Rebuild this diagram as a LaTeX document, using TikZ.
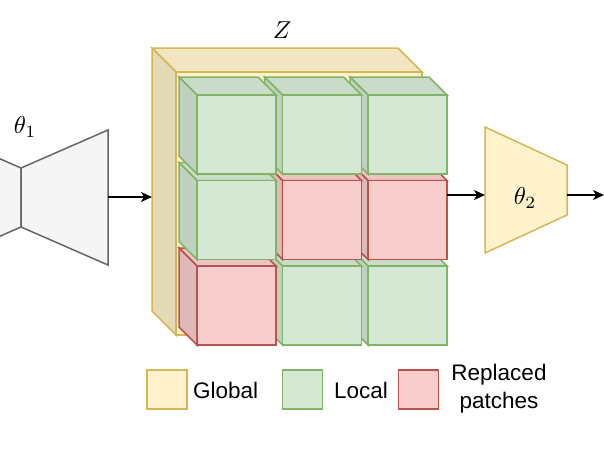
\documentclass[tikz,border=0pt]{standalone}
\usepackage{fontspec}
\setmainfont{Liberation Sans}
\usetikzlibrary{arrows.meta}
\definecolor{yF}{HTML}{FFF2CC}\definecolor{yS}{HTML}{D6B656}
\definecolor{gF}{HTML}{D5E8D4}\definecolor{gS}{HTML}{82B366}
\definecolor{rF}{HTML}{F8CECC}\definecolor{rS}{HTML}{B85450}
\definecolor{kF}{HTML}{F5F5F5}\definecolor{kS}{HTML}{666666}
\newcommand\cubecell[3]{%
  \filldraw[shp,fill=#3F!95!black,draw=#3S] (#1,#2) -- ++(79,0) -- ++(18,18) -- ++(-79,0) -- cycle;
  \filldraw[shp,fill=#3F!90!black,draw=#3S] (#1,#2) -- ++(18,18) -- ++(0,79) -- ++(-18,-18) -- cycle;
  \filldraw[shp,fill=#3F,draw=#3S] (#1+18,#2+18) rectangle ++(79,79);
}
\tikzset{
  shp/.style={line width=1.5pt},
  arr/.style={line width=1.6pt,-{Stealth[length=11pt,width=10pt,inset=3pt]}},
  lbl/.style={inner sep=0pt},
  legbox/.style={line width=1.5pt,minimum width=40pt,minimum height=39pt,inner sep=0pt},
  legtxt/.style={font=\fontsize{22.5}{28}\selectfont,inner sep=0pt,align=center},
}
\newcommand\mylbl[1]{\scalebox{2.45}{$#1$}}
\begin{document}
\begin{tikzpicture}[x=1pt,y=-1pt]
\useasboundingbox (0,0) rectangle (604,455);
\clip (0,0) rectangle (604,455);
% encoder
\filldraw[shp,fill=kF,draw=kS] (21,168) -- (-66,130) -- (-66,265) -- (21,227) -- cycle;
\filldraw[shp,fill=kF,draw=kS] (21,168) -- (108,130) -- (108,265) -- (21,227) -- cycle;
\node[lbl] (t1) at (25,127) {\mylbl{\theta_1}};
% global cube
\filldraw[shp,fill=yF!95!black,draw=yS] (152,48) -- (398,48) -- (422,72) -- (176,72) -- cycle;
\filldraw[shp,fill=yF!90!black,draw=yS] (152,48) -- (176,72) -- (176,335) -- (152,311) -- cycle;
\filldraw[shp,fill=yF,draw=yS] (176,72) rectangle (422,335);
\node[lbl] (z) at (282,30) {\mylbl{Z}};
% cells: drawn bottom-right to top-left
\cubecell{350}{248}{g}
\cubecell{264.5}{248}{g}
\cubecell{179}{248}{r}
\cubecell{350}{162.5}{r}
\cubecell{264.5}{162.5}{r}
\cubecell{179}{162.5}{g}
\cubecell{350}{77}{g}
\cubecell{264.5}{77}{g}
\cubecell{179}{77}{g}
% decoder
\filldraw[shp,fill=yF,draw=yS] (485,127) -- (567,165) -- (567,215) -- (485,253) -- cycle;
\node[lbl] (t2) at (525,198) {\mylbl{\theta_2}};
% connectors
\coordinate (encout) at (108,197);
\coordinate (zin) at (152,197);
\coordinate (zout) at (447,195);
\coordinate (decin) at (485,195);
\coordinate (decout) at (567,195);
\coordinate (out) at (604,195);
\draw[arr] (encout) -- (zin);
\draw[arr] (zout) -- (decin);
\draw[arr] (decout) -- (out);
% legend
\node[legbox,fill=yF,draw=yS] (lg) at (167,389.5) {};
\node[legbox,fill=gF,draw=gS] (ll) at (302.5,389.5) {};
\node[legbox,fill=rF,draw=rS] (lr) at (418.5,389.5) {};
\node[legtxt,anchor=west] (tg) at (193,390) {Global};
\node[legtxt,anchor=west] (tl) at (334,390) {Local};
\node[legtxt] (tr) at (499,389) {Replaced\\patches};
\end{tikzpicture}
\end{document}
